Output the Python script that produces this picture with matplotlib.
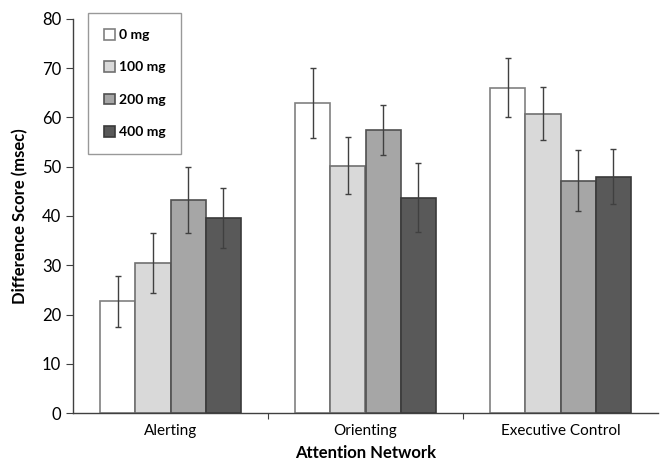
import numpy as np
import matplotlib.pyplot as plt

plt.rcParams['font.family'] = ['Lato', 'DejaVu Sans']

# data
networks = ['Alerting', 'Orienting', 'Executive Control']
doses = ['0 mg', '100 mg', '200 mg', '400 mg']
mg0 = [22.7, 63.0, 66.0]
mg100 = [30.4, 50.2, 60.8]
mg200 = [43.3, 57.5, 47.2]
mg400 = [39.6, 43.7, 48.0]
err0 = [5.2, 7.1, 6.0]
err100 = [6.1, 5.8, 5.3]
err200 = [6.7, 5.1, 6.1]
err400 = [6.0, 7.0, 5.6]

values = [mg0, mg100, mg200, mg400]
errors = [err0, err100, err200, err400]
fills = ['#ffffff', '#d9d9d9', '#a6a6a6', '#595959']
edges = ['#808080', '#707070', '#505050', '#3a3a3a']

fig = plt.figure(figsize=(6.6, 4.66), dpi=100)
ax = fig.add_axes([73 / 660, 1 - 413 / 466, 585 / 660, 394 / 466])

x = np.arange(len(networks))
w = 0.18
for i, (vals, errs) in enumerate(zip(values, errors)):
    pos = x + (i - 1.5) * w
    ax.bar(pos, vals, width=w, color=fills[i], edgecolor=edges[i],
           linewidth=1.2, label=doses[i], zorder=2)
    ax.errorbar(pos, vals, yerr=errs, fmt='none', ecolor='#404040',
                elinewidth=1.0, capsize=2.5, capthick=1.0, zorder=3)

ax.set_xlim(-0.5, 2.5)
ax.set_ylim(0, 80)
ax.set_yticks(range(0, 81, 10))
ax.set_xticks([0.5, 1.5])
ax.set_xticklabels([])
ax.set_xticks(x, minor=True)
ax.set_xticklabels(networks, minor=True, fontsize=11)
ax.tick_params(axis='x', which='minor', length=0, pad=8)
ax.tick_params(axis='x', which='major', length=4, direction='out', color='#404040')
ax.tick_params(axis='y', labelsize=12, length=5, direction='out', color='#404040')

for side in ['top', 'right']:
    ax.spines[side].set_visible(False)
for side in ['left', 'bottom']:
    ax.spines[side].set_color('#404040')
    ax.spines[side].set_linewidth(1.0)

ax.set_ylabel('Difference Score (msec)', fontsize=12, fontweight='bold', labelpad=10)
ax.set_xlabel('Attention Network', fontsize=12, fontweight='bold', labelpad=5)

leg = ax.legend(loc='upper left', bbox_to_anchor=(0.025, 1.015),
                prop={'weight': 'bold', 'size': 10}, fancybox=False,
                edgecolor='#808080', labelspacing=1.45, handlelength=0.8,
                handleheight=0.8, handletextpad=0.3, borderpad=1.15,
                borderaxespad=0)
leg.get_frame().set_linewidth(1.0)

plt.savefig('out.png', dpi=100)
